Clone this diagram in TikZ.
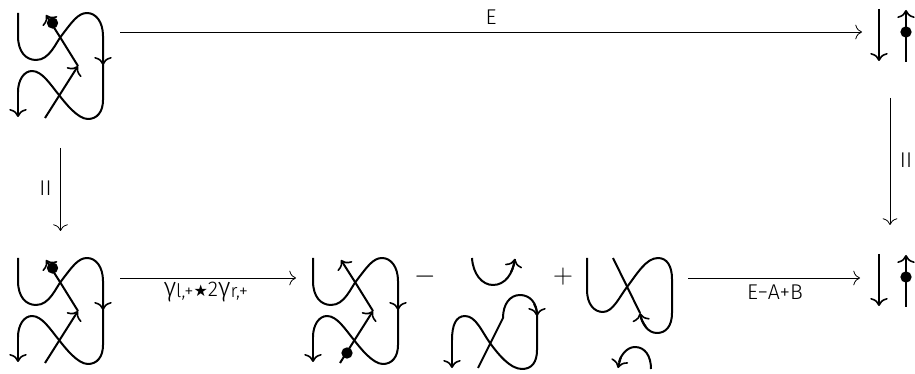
\documentclass[tikz,border=0pt]{standalone}
\usepackage{fontspec}
\setmainfont{Fira Sans Light}
\newfontfamily\symfont{DejaVu Sans}
\usetikzlibrary{arrows.meta}
\newcommand{\subtxt}[1]{\raisebox{-1pt}{\fontsize{14}{16}\selectfont #1}}
\newcommand{\gam}{{\fontsize{20}{22}\selectfont γ}}
\tikzset{
  x=0.75pt,y=-0.75pt,
  strand/.style={line width=1.5pt,line cap=butt,line join=round},
  head/.style={-{Computer Modern Rightarrow[width=13pt,length=6pt,line width=1.2pt]}},
  strandarrow/.style={strand,head},
  conn/.style={line width=0.6pt,-{Computer Modern Rightarrow[width=11pt,length=5pt,line width=0.6pt]}},
  lbl/.style={inner sep=0pt,font=\fontsize{16}{19}\selectfont,text=black},
  op/.style={inner sep=0pt,font=\fontsize{22}{26}\selectfont},
  dot/.style={circle,fill=black,inner sep=0pt,minimum size=8.5pt},
  pics/twisted/.style={code={
    \draw[strand] (18,13) -- (18,36) .. controls (18,52) and (26,60) .. (36,60)
       .. controls (50,60) and (56,42) .. (62,35) .. controls (72,22) and (78,13) .. (87,13)
       .. controls (96,13) and (103,22) .. (103,36) -- (103,100)
       .. controls (103,112) and (97,119) .. (88,119)
       .. controls (78,119) and (66,104) .. (59,95)
       .. controls (50,84) and (42,71) .. (32,71)
       .. controls (24,71) and (18,80) .. (18,92);
    \draw[strandarrow] (18,88) -- (18,117);
    \draw[strandarrow] (103,36) -- (103,65);
    \draw[strandarrow] (45,118) -- (78,66);
    \draw[strand] (78,66) -- (60,37);
    \draw[strandarrow] (60,37) -- (46,15);
  }},
  pics/updown/.style={code={
    \draw[strandarrow] (879,9) -- (879,61);
    \draw[strandarrow] (906,62) -- (906,10);
  }}
}
\begin{document}
\begin{tikzpicture}
\useasboundingbox (0,0) rectangle (915,374);
% knots
\pic at (0,0) {twisted};
\node[dot] (d1) at (52.5,23) {};
\pic at (0,245) {twisted};
\node[dot] (d2) at (52.5,268) {};
\pic at (295,245) {twisted};
\node[dot] (d3) at (347,353) {};
\pic at (0,0) {updown};
\node[dot] (d4) at (906,32) {};
\pic at (0,245) {updown};
\node[dot] (d5) at (906,277) {};
% second term
\draw[strand] (472,258) .. controls (473,274) and (482,285) .. (493,285)
   .. controls (505,285) and (513,274) .. (515,259);
\draw[strandarrow] (511,272) .. controls (513,268) and (514,264) .. (515,259);
\draw[strand] (478,368) -- (503,318) .. controls (503,304) and (510,295) .. (520,295)
   .. controls (530,295) and (537,303) .. (537,315) -- (537,350)
   .. controls (537,362) and (532,369) .. (522,369)
   .. controls (510,369) and (498,354) .. (490,343)
   .. controls (482,332) and (476,316) .. (465,316)
   .. controls (456,316) and (452,325) .. (452,340);
\draw[strandarrow] (452,338) -- (452,368);
\draw[strandarrow] (534,304) .. controls (536,307) and (537,311) .. (537,316);
% third term
\draw[strand] (587,258) -- (587,290) .. controls (587,304) and (594,312) .. (603,312)
   .. controls (613,312) and (620,296) .. (627,287)
   .. controls (637,274) and (646,258) .. (658,258)
   .. controls (667,258) and (672,266) .. (672,279) -- (672,313)
   .. controls (672,326) and (666,333) .. (657,333)
   .. controls (648,333) and (642,324) .. (640,314);
\draw[strandarrow] (646,327) .. controls (643,323) and (641,319) .. (640,313);
\draw[strand] (640,313) -- (613,258);
\draw[strand] (651,369) .. controls (651,356) and (645,347) .. (635,347)
   .. controls (627,347) and (621,355) .. (619,362);
\draw[strandarrow] (621,357) .. controls (620,360) and (619,364) .. (618,368);
% operators
\node[op] (minus) at (425,277) {$-$};
\node[op] (plus) at (563,277) {$+$};
% connector ends
\coordinate (c1) at (120,32); \coordinate (c2) at (862,32);
\coordinate (c3) at (60.5,148); \coordinate (c4) at (60.5,231);
\coordinate (c5) at (890,98); \coordinate (c6) at (890,225);
\coordinate (c7) at (120,278); \coordinate (c8) at (296,278);
\coordinate (c9) at (688,278); \coordinate (c10) at (860,278);
\draw[conn] (c1) -- (c2);
\draw[conn] (c3) -- (c4);
\draw[conn] (c5) -- (c6);
\draw[conn] (c7) -- (c8);
\draw[conn] (c9) -- (c10);
\node[lbl] (e) at (491,17) {E};
\node[lbl] (iil) at (45.5,188) {II};
\node[lbl] (iir) at (906,160) {II};
\node[lbl] (g) at (206,292) {\gam\subtxt{l,+}{\symfont\fontsize{12}{14}\selectfont ★}2\gam\subtxt{r,+}};
\node[lbl] (eab) at (775,292) {E−A+B};
\end{tikzpicture}
\end{document}
